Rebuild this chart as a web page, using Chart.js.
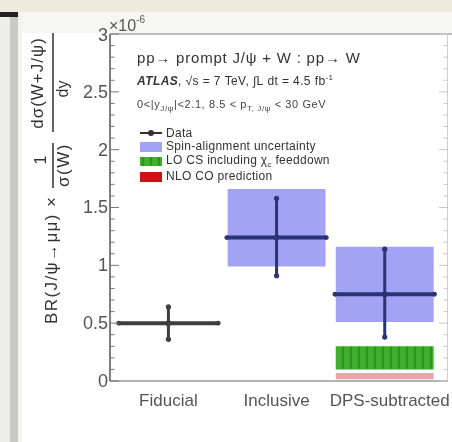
<!DOCTYPE html>
<html>
<head>
<meta charset="utf-8">
<script src="https://cdn.jsdelivr.net/npm/chart.js@4.4.1/dist/chart.umd.min.js"></script>
<style>
  body { margin: 0; background: #fff; }
  #c { display: block; filter: blur(0.6px); }
</style>
</head>
<body>
<canvas id="c" width="452" height="442"></canvas>
<script>
// values (units of 1e-6)
const categories = ['Fiducial', 'Inclusive', 'DPS-subtracted'];
const dataCentral = [0.50, 1.24, 0.75];
const dataHigh = [0.64, 1.58, 1.14];
const dataLow = [0.36, 0.91, 0.38];
const spinLow = [null, 0.99, 0.51];
const spinHigh = [null, 1.66, 1.16];
const lcsLow = [null, null, 0.10];
const lcsHigh = [null, null, 0.30];
const ncoLow = [null, null, 0.015];
const ncoHigh = [null, null, 0.07];
const yTicks = [0, 0.5, 1, 1.5, 2, 2.5];

const FONT = '"Liberation Sans", Arial, sans-serif';
const canvas = document.getElementById('c');
const ctx = canvas.getContext('2d');

function boxes(lo, hi) {
  const out = [];
  lo.forEach((v, i) => {
    if (v !== null) out.push({ x: i, y: [v, hi[i]] });
  });
  return out;
}

function greenStripes() {
  const c = document.createElement('canvas');
  c.width = 8; c.height = 8;
  const g = c.getContext('2d');
  g.fillStyle = '#3fae2c';
  g.fillRect(0, 0, 8, 8);
  g.fillStyle = '#2f9220';
  g.fillRect(6, 0, 2, 8);
  return ctx.createPattern(c, 'repeat');
}

// text made of runs, for sub/superscripts
function runs(x, y, parts, color, spacing) {
  ctx.fillStyle = color || '#333';
  ctx.textBaseline = 'middle';
  ctx.textAlign = 'left';
  ctx.letterSpacing = (spacing || 0) + 'px';
  parts.forEach((p) => {
    ctx.font = (p.style || '') + ' ' + p.size + 'px ' + FONT;
    ctx.fillText(p.t, x, y + (p.dy || 0));
    x += ctx.measureText(p.t).width;
  });
  ctx.letterSpacing = '0px';
}

function rotText(text, x, y, size, align, spacing) {
  ctx.save();
  ctx.translate(x, y);
  ctx.rotate(-Math.PI / 2);
  ctx.font = size + 'px ' + FONT;
  ctx.letterSpacing = (spacing || 0) + 'px';
  ctx.fillStyle = '#333';
  ctx.textAlign = align || 'center';
  ctx.textBaseline = 'middle';
  ctx.fillText(text, 0, 0);
  ctx.restore();
}

const decor = {
  id: 'decor',
  beforeDraw(chart) {
    const c = chart.ctx;
    c.save();
    c.fillStyle = '#fff';
    c.fillRect(0, 0, 452, 442);
    c.fillStyle = '#ebebde';
    c.fillRect(0, 0, 452, 12);
    c.fillStyle = '#f6f6f2';
    c.fillRect(20, 12, 432, 21);
    c.fillStyle = '#eeeee8';
    c.fillRect(0, 12, 10, 430);
    c.fillStyle = '#cacac3';
    c.fillRect(10, 12, 8, 430);
    c.fillStyle = '#f3f3ef';
    c.fillRect(18, 12, 4, 430);
    c.fillStyle = '#222';
    c.fillRect(0, 12, 18, 5);
    c.restore();
  },
  afterDatasetsDraw(chart) {
    const x = chart.scales.x, y = chart.scales.y;
    const c = chart.ctx;
    c.save();
    dataCentral.forEach((v, i) => {
      const col = i === 0 ? '#3e3e3e' : '#2b3375';
      const xc = x.getPixelForValue(i);
      const half = x.getPixelForValue(i + 0.46) - xc;
      const yc = y.getPixelForValue(v);
      const yh = y.getPixelForValue(dataHigh[i]);
      const yl = y.getPixelForValue(dataLow[i]);
      c.strokeStyle = col;
      c.lineWidth = 4;
      c.beginPath();
      c.moveTo(xc - half, yc);
      c.lineTo(xc + half, yc);
      c.stroke();
      c.lineWidth = 3;
      c.beginPath();
      c.moveTo(xc, yh);
      c.lineTo(xc, yl);
      c.stroke();
      c.fillStyle = col;
      [yh, yl].forEach((yy) => {
        c.beginPath();
        c.arc(xc, yy, 2.6, 0, Math.PI * 2);
        c.fill();
      });
      [xc - half, xc + half].forEach((xx) => {
        c.beginPath();
        c.arc(xx, yc, 2.4, 0, Math.PI * 2);
        c.fill();
      });
    });
    c.restore();
  },
  afterDraw(chart) {
    const x = chart.scales.x, y = chart.scales.y;
    const a = chart.chartArea;
    ctx.save();
    // frame
    ctx.strokeStyle = '#bdbdbd';
    ctx.lineWidth = 2;
    ctx.beginPath();
    ctx.moveTo(a.left, a.top);
    ctx.lineTo(452, a.top);
    ctx.stroke();
    ctx.strokeStyle = '#cfcfcf';
    ctx.lineWidth = 1;
    ctx.beginPath();
    ctx.moveTo(a.right - 0.5, a.top);
    ctx.lineTo(a.right - 0.5, a.bottom);
    ctx.stroke();
    ctx.strokeStyle = '#9a9a9a';
    ctx.lineWidth = 1.5;
    ctx.beginPath();
    ctx.moveTo(a.left, a.bottom);
    ctx.lineTo(a.right, a.bottom);
    ctx.stroke();
    ctx.strokeStyle = '#555';
    ctx.beginPath();
    ctx.moveTo(a.left, a.top);
    ctx.lineTo(a.left, a.bottom);
    ctx.stroke();
    // y ticks, every 0.1, major every 0.5
    for (let k = 0; k <= 30; k++) {
      const py = y.getPixelForValue(k / 10);
      const len = k % 5 === 0 ? 9 : 4.5;
      ctx.strokeStyle = '#777';
      ctx.lineWidth = 1;
      ctx.beginPath();
      ctx.moveTo(a.left, py);
      ctx.lineTo(a.left + len, py);
      ctx.stroke();
      ctx.strokeStyle = '#c8c8c8';
      ctx.beginPath();
      ctx.moveTo(a.right, py);
      ctx.lineTo(a.right - len, py);
      ctx.stroke();
    }
    // y tick labels
    ctx.fillStyle = '#555';
    ctx.font = '18px ' + FONT;
    ctx.textAlign = 'right';
    ctx.textBaseline = 'middle';
    yTicks.forEach((v) => {
      ctx.fillText(String(v), a.left - 2, y.getPixelForValue(v) + 1);
    });
    // exponent label
    ctx.fillText('3', 108, y.getPixelForValue(3) + 2);
    runs(109, 27, [{ t: '×10', size: 16 }, { t: '-6', size: 10, dy: -7 }], '#555');
    // x category labels
    ctx.fillStyle = '#555';
    ctx.font = '17px ' + FONT;
    ctx.textAlign = 'center';
    ctx.textBaseline = 'middle';
    const xShift = [0, 0, 5];
    categories.forEach((name, i) => {
      ctx.fillText(name, x.getPixelForValue(i) + xShift[i], 401);
    });
    // y axis title
    rotText('BR(J/ψ→μμ) ×', 52, 324, 17, 'left', 1.4);
    rotText('1', 42, 160, 16);
    rotText('σ(W)', 64, 165, 17, 'center', 1.5);
    rotText('dσ(W+J/ψ)', 38, 83, 17, 'center', 1);
    rotText('dy', 64, 89, 16);
    ctx.strokeStyle = '#333';
    ctx.lineWidth = 1.5;
    ctx.beginPath();
    ctx.moveTo(53, 33); ctx.lineTo(53, 132);
    ctx.moveTo(53, 143); ctx.lineTo(53, 188);
    ctx.stroke();
    // header lines
    runs(137, 59, [{ t: 'pp→ prompt J/ψ + W : pp→ W', size: 15 }], '#333', 0.8);
    runs(137, 82, [
      { t: 'ATLAS', size: 12, style: 'italic bold' },
      { t: ', √s = 7 TeV, ∫L dt = 4.5 fb', size: 12 },
      { t: '-1', size: 8, dy: -4 }
    ], '#333', 0.4);
    runs(137, 105, [
      { t: '0<|y', size: 11 },
      { t: 'J/ψ', size: 8, dy: 4 },
      { t: '|<2.1, 8.5 < p', size: 11 },
      { t: 'T, J/ψ', size: 8, dy: 4 },
      { t: ' < 30 GeV', size: 11 }
    ], '#444', 0.6);
    // legend
    ctx.strokeStyle = '#333';
    ctx.lineWidth = 2;
    ctx.beginPath();
    ctx.moveTo(140, 133); ctx.lineTo(162, 133);
    ctx.stroke();
    ctx.fillStyle = '#333';
    ctx.beginPath();
    ctx.arc(151, 133, 3, 0, Math.PI * 2);
    ctx.fill();
    runs(166, 134, [{ t: 'Data', size: 12 }], '#333', 0.3);
    ctx.fillStyle = '#a3a3f6';
    ctx.fillRect(140, 142, 22, 10);
    runs(166, 147, [{ t: 'Spin-alignment uncertainty', size: 12 }], '#333', 0.3);
    ctx.fillStyle = greenStripes();
    ctx.fillRect(140, 157, 22, 9);
    runs(166, 161, [
      { t: 'LO CS including χ', size: 12 },
      { t: 'c', size: 8, dy: 4 },
      { t: ' feeddown', size: 12 }
    ], '#333', 0.3);
    ctx.fillStyle = '#c81414';
    ctx.fillRect(140, 172, 22, 10);
    runs(166, 177, [{ t: 'NLO CO prediction', size: 12 }], '#333', 0.3);
    ctx.restore();
  }
};

new Chart(canvas, {
  type: 'bar',
  data: {
    datasets: [
      {
        label: 'Central',
        type: 'scatter',
        data: dataCentral.map((v, i) => ({ x: i, y: v })),
        pointRadius: 3,
        pointBackgroundColor: ['#3e3e3e', '#2b3375', '#2b3375'],
        pointBorderWidth: 0,
        order: 0,
      },
      {
        label: 'Spin-alignment uncertainty',
        data: boxes(spinLow, spinHigh),
        backgroundColor: '#a3a3f6',
        grouped: false,
        barPercentage: 0.905,
        categoryPercentage: 1,
        order: 3,
      },
      {
        label: 'LO CS including chi_c feeddown',
        data: boxes(lcsLow, lcsHigh),
        backgroundColor: greenStripes(),
        grouped: false,
        barPercentage: 0.905,
        categoryPercentage: 1,
        order: 2,
      },
      {
        label: 'NLO CO prediction',
        data: boxes(ncoLow, ncoHigh),
        backgroundColor: '#eaa6a6',
        grouped: false,
        barPercentage: 0.905,
        categoryPercentage: 1,
        order: 1,
      },
    ],
  },
  options: {
    responsive: false,
    animation: false,
    devicePixelRatio: 1,
    layout: { padding: { top: 34, right: 3, left: 0, bottom: 0 } },
    plugins: { legend: { display: false }, tooltip: { enabled: false } },
    scales: {
      x: {
        type: 'linear',
        min: -0.54,
        max: 2.585,
        offset: false,
        grid: { display: false, offset: false },
        border: { display: false },
        ticks: { display: false },
        afterBuildTicks: (s) => { s.ticks = categories.map((c, i) => ({ value: i })); },
        afterFit: (s) => { s.height = 61; },
      },
      y: {
        min: 0,
        max: 3,
        grid: { display: false },
        border: { display: false },
        ticks: { display: false, stepSize: 0.5 },
        afterFit: (s) => { s.width = 110; },
      },
    },
  },
  plugins: [decor],
});
</script>
</body>
</html>
